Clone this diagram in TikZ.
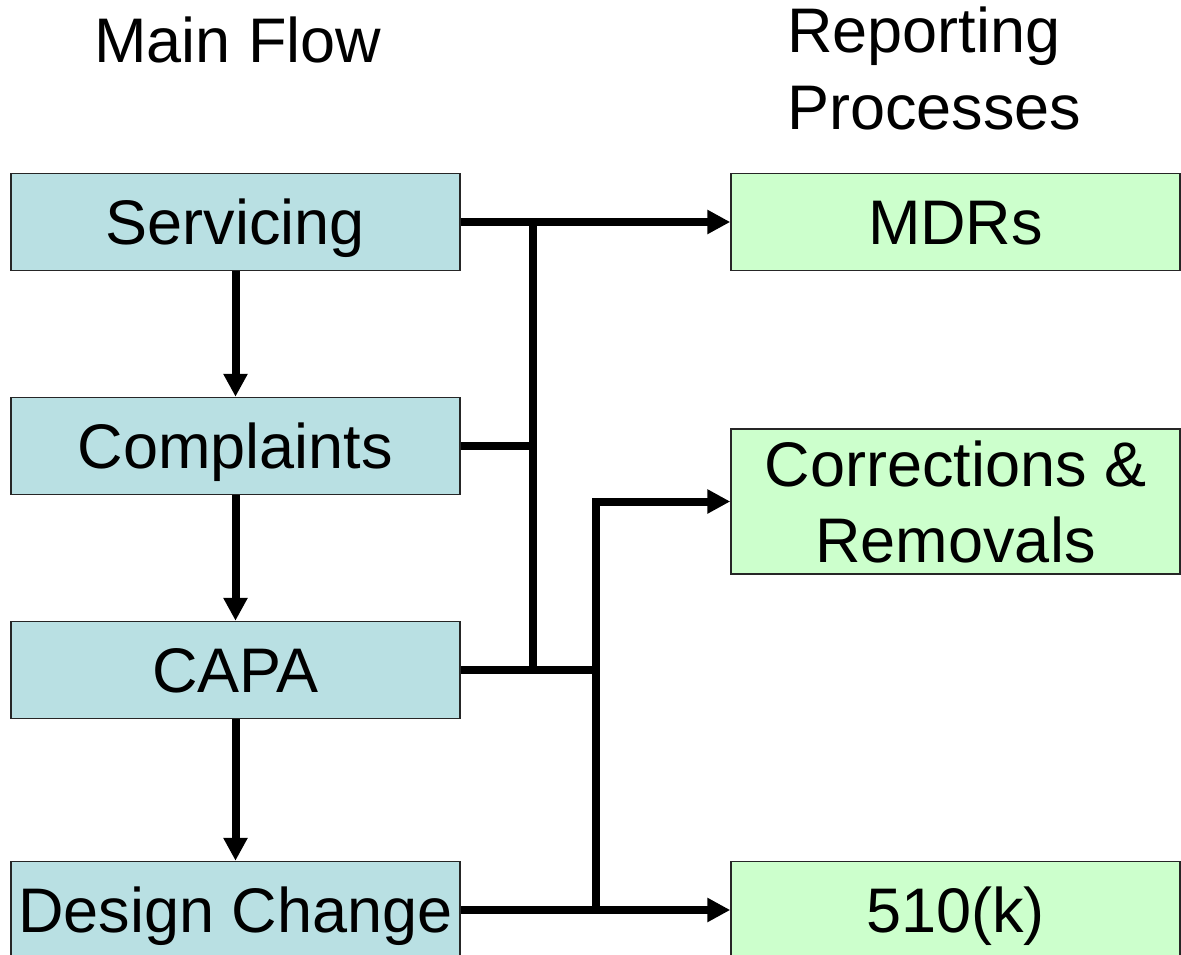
\documentclass[tikz,border=0pt]{standalone}
\usepackage{fontspec}
\setmainfont{Liberation Sans}
\usetikzlibrary{arrows.meta}
\definecolor{mainfill}{HTML}{B9E0E3}
\definecolor{repfill}{HTML}{CCFFCC}
\tikzset{
  box/.style={draw=black!85, line width=1.5pt, minimum width=449pt, inner sep=0pt,
              font=\fontsize{63}{76}\selectfont},
  onebox/.style={box, minimum height=97pt, text height=45pt, text depth=0pt},
  mainbox/.style={onebox, fill=mainfill},
  repbox/.style={onebox, fill=repfill},
  tworep/.style={box, fill=repfill, minimum height=145pt, align=center},
  conn/.style={line width=8pt},
  arr/.style={conn, -{Triangle[length=23pt,width=23pt]}},
  title/.style={font=\fontsize{63}{77}\selectfont, inner sep=0pt}
}
\begin{document}
\begin{tikzpicture}[x=1pt,y=-1pt]
\useasboundingbox (0,0) rectangle (1181,955);
\node[title, anchor=base] (tmain) at (238,63) {Main Flow};
\node[title, anchor=base west, align=left] (trep) at (787,130) {Reporting\\Processes};

\node[mainbox] (serv) at (235.5,222) {Servicing};
\node[mainbox] (compl) at (235.5,446) {Complaints};
\node[mainbox] (capa) at (235.5,670) {CAPA};
\node[mainbox] (design) at (235.5,910) {Design Change};

\node[repbox] (mdr) at (955.5,222) {MDRs};
\node[tworep] (corr) at (955.5,501.5) {Corrections \&\\Removals};
\node[repbox] (k510) at (955.5,910) {510(k)};

\coordinate (t1) at (533,0);
\coordinate (t2) at (596,0);

\draw[arr] (serv) -- (compl);
\draw[arr] (compl) -- (capa);
\draw[arr] (capa) -- (design);

\draw[arr] (serv.east) -- (mdr.west);
\draw[conn] (compl.east) -- (compl.east -| t1);
\draw[conn] (serv.east -| t1) -- (capa.east -| t1);
\draw[conn] (capa.east) -- (capa.east -| t2);
\draw[arr] (design.east) -- (k510.west);
\draw[arr] (design.east -| t2) -- (corr.west -| t2) -- (corr.west);
\end{tikzpicture}
\end{document}
